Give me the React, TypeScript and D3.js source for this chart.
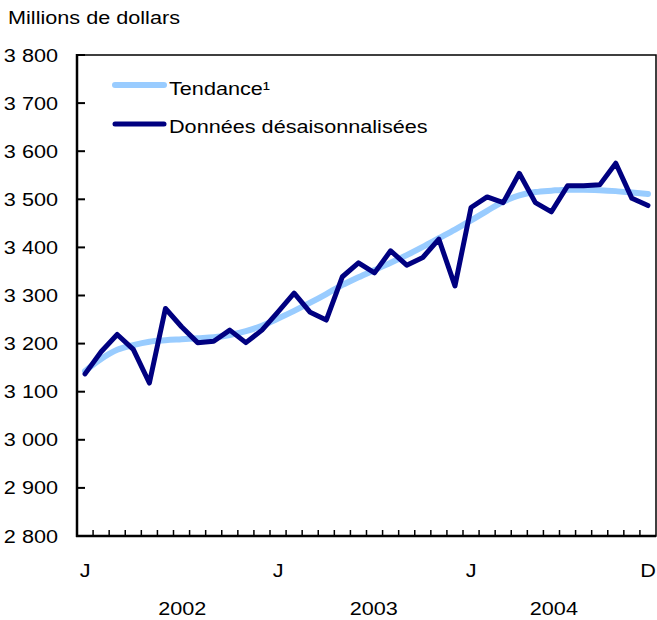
import React from "react";
import * as d3 from "d3";

const months = d3.range(36);
const seasonal = [
  3137, 3183, 3219, 3188, 3118, 3273, 3235, 3202, 3205, 3228, 3202, 3228,
  3266, 3305, 3265, 3249, 3339, 3368, 3347, 3393, 3363, 3379, 3417, 3320,
  3483, 3505, 3493, 3554, 3493, 3474, 3528, 3528, 3530, 3575, 3502, 3487,
];
const trend = [
  3143, 3168, 3187, 3197, 3204, 3207, 3209, 3211, 3213, 3218, 3226, 3237,
  3252, 3268, 3285, 3303, 3322, 3338, 3353, 3368, 3384, 3401, 3419, 3437,
  3456, 3476, 3495, 3508, 3515, 3518, 3520, 3520, 3519, 3517, 3514, 3511,
];
const yTicks = [2800, 2900, 3000, 3100, 3200, 3300, 3400, 3500, 3600, 3700, 3800];
const monthLabels = [
  { m: 0, t: "J" },
  { m: 12, t: "J" },
  { m: 24, t: "J" },
  { m: 35, t: "D" },
];
const years = ["2002", "2003", "2004"];
const seriesNames = ["Tendance\u00B9", "Données désaisonnalisées"];

const W = 657, H = 620;
const L = 77, R = 656, T = 55, B = 536;
const FONT = "'Liberation Sans', Arial, Helvetica, sans-serif";
const FS = 18.5;
const SX = 1.17;

function Txt(props: { x: number; y: number; anchor?: string; children: React.ReactNode }) {
  return (
    <text
      transform={`translate(${props.x},${props.y}) scale(${SX},1)`}
      textAnchor={props.anchor || "start"}
      fontSize={FS}
      fill="#000"
    >
      {props.children}
    </text>
  );
}

export default function App() {
  const x = d3.scaleBand<number>().domain(months).range([L, R]).paddingInner(0).paddingOuter(0);
  const cx = (i: number) => (x(i) as number) + x.bandwidth() / 2;
  const y = d3.scaleLinear().domain([2800, 3800]).range([B, T]);
  const line = d3.line<number>().x((_, i) => cx(i)).y((d) => y(d));
  const smooth = d3.line<number>().x((_, i) => cx(i)).y((d) => y(d)).curve(d3.curveMonotoneX);
  const fmt = (v: number) => d3.format(",")(v).replace(",", " ");
  const yearOffsets = [0.55, 0.45, -0.35];

  return (
    <svg width={W} height={H} style={{ position: "absolute", left: 0, top: 0 }} fontFamily={FONT}>
      <rect x={0} y={0} width={W} height={H} fill="#fff" />
      <Txt x={8} y={24}>Millions de dollars</Txt>

      {/* frame */}
      <rect x={L} y={T} width={R - L} height={B - T} fill="none" stroke="#000" strokeWidth={1.5} />
      <line x1={L} x2={L} y1={T - 1} y2={B + 1} stroke="#000" strokeWidth={2.5} />
      <line x1={L - 1} x2={R} y1={B} y2={B} stroke="#000" strokeWidth={2.5} />

      {yTicks.map((v) => (
        <g key={v}>
          <line x1={L} x2={L + 8} y1={y(v)} y2={y(v)} stroke="#000" strokeWidth={2} />
          <Txt x={58} y={y(v) + 6.5} anchor="end">{fmt(v)}</Txt>
        </g>
      ))}

      {months.slice(1).map((m) => (
        <line key={m} x1={x(m) as number} x2={x(m) as number} y1={B} y2={B - 6} stroke="#000" strokeWidth={1.5} />
      ))}

      {monthLabels.map((d) => (
        <Txt key={d.m} x={cx(d.m)} y={577} anchor="middle">{d.t}</Txt>
      ))}
      {years.map((yr, i) => (
        <Txt key={yr} x={cx(i * 12 + 6) - x.bandwidth() / 2 + yearOffsets[i] * x.bandwidth()} y={615} anchor="middle">{yr}</Txt>
      ))}

      <path d={smooth(trend) || ""} fill="none" stroke="#99CCFF" strokeWidth={6} strokeLinecap="round" />
      <path d={line(seasonal) || ""} fill="none" stroke="#000080" strokeWidth={5} strokeLinejoin="round" strokeLinecap="round" />

      {/* legend */}
      <line x1={115} x2={164} y1={85} y2={85} stroke="#99CCFF" strokeWidth={6} strokeLinecap="round" />
      <Txt x={169} y={95}>{seriesNames[0]}</Txt>
      <line x1={115} x2={164} y1={124} y2={124} stroke="#000080" strokeWidth={5} strokeLinecap="round" />
      <Txt x={169} y={133}>{seriesNames[1]}</Txt>
    </svg>
  );
}
